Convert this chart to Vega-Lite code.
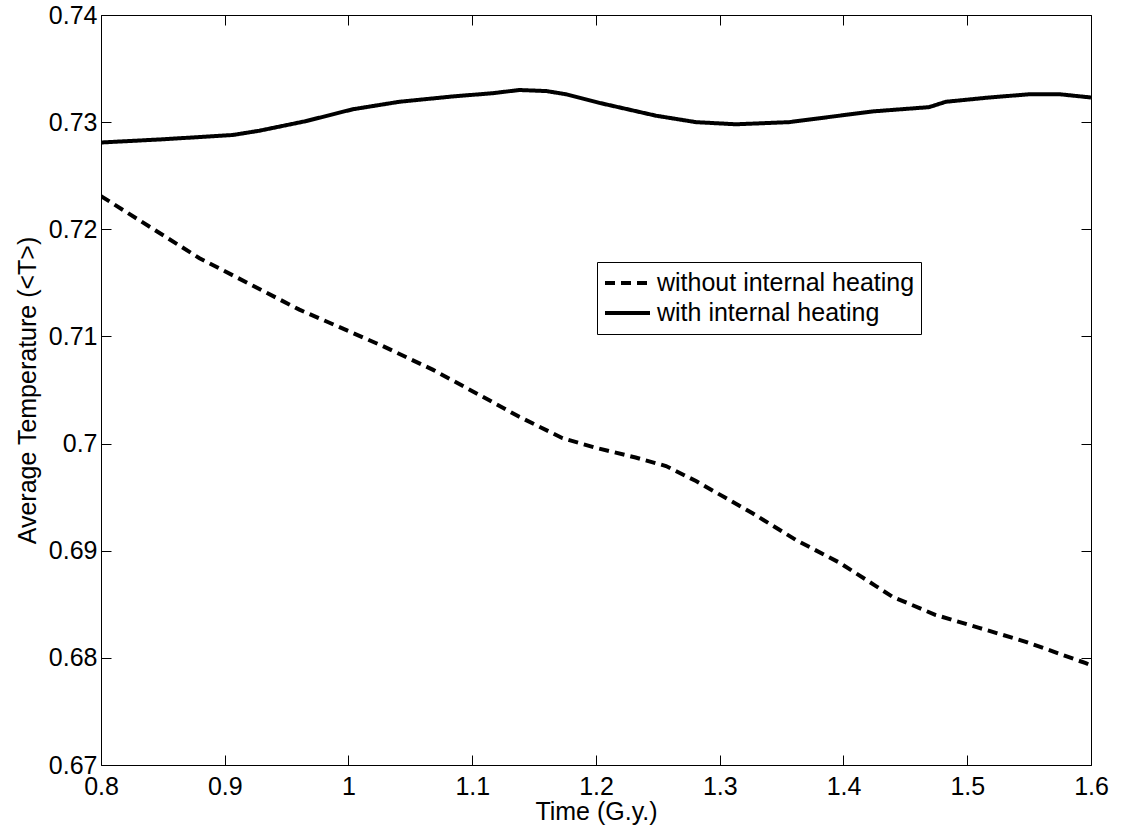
{
  "$schema": "https://vega.github.io/schema/vega-lite/v6.json",
  "width": 990,
  "height": 750,
  "autosize": {"type": "none"},
  "padding": {"left": 101, "top": 15, "right": 35, "bottom": 66},
  "background": "white",
  "config": {
    "font": "Liberation Sans",
    "view": {"stroke": null},
    "axis": {
      "domainColor": "black",
      "domainWidth": 1,
      "tickColor": "black",
      "tickSize": -10,
      "tickWidth": 1,
      "labelColor": "black",
      "titleColor": "black",
      "labelFontSize": 25,
      "titleFontSize": 25,
      "titleFontWeight": "normal",
      "grid": false,
      "labelFlush": false,
      "labelOverlap": false,
      "labelFont": "Liberation Sans",
      "titleFont": "Liberation Sans"
    }
  },
  "data": {
    "values": [
      {"t": 0.800, "T": 0.7281, "series": "with internal heating"},
      {"t": 0.850, "T": 0.7284, "series": "with internal heating"},
      {"t": 0.9065, "T": 0.7288, "series": "with internal heating"},
      {"t": 0.928, "T": 0.7292, "series": "with internal heating"},
      {"t": 0.9658, "T": 0.7301, "series": "with internal heating"},
      {"t": 1.0034, "T": 0.7312, "series": "with internal heating"},
      {"t": 1.0411, "T": 0.7319, "series": "with internal heating"},
      {"t": 1.0842, "T": 0.7324, "series": "with internal heating"},
      {"t": 1.1165, "T": 0.7327, "series": "with internal heating"},
      {"t": 1.138, "T": 0.7330, "series": "with internal heating"},
      {"t": 1.16, "T": 0.7329, "series": "with internal heating"},
      {"t": 1.1758, "T": 0.7326, "series": "with internal heating"},
      {"t": 1.2027, "T": 0.7318, "series": "with internal heating"},
      {"t": 1.2485, "T": 0.7306, "series": "with internal heating"},
      {"t": 1.2808, "T": 0.7300, "series": "with internal heating"},
      {"t": 1.3131, "T": 0.7298, "series": "with internal heating"},
      {"t": 1.3561, "T": 0.7300, "series": "with internal heating"},
      {"t": 1.4234, "T": 0.7310, "series": "with internal heating"},
      {"t": 1.4692, "T": 0.7314, "series": "with internal heating"},
      {"t": 1.4827, "T": 0.7319, "series": "with internal heating"},
      {"t": 1.5177, "T": 0.7323, "series": "with internal heating"},
      {"t": 1.55, "T": 0.7326, "series": "with internal heating"},
      {"t": 1.575, "T": 0.7326, "series": "with internal heating"},
      {"t": 1.6, "T": 0.7323, "series": "with internal heating"},
      {"t": 0.800, "T": 0.7231, "series": "without internal heating"},
      {"t": 0.8796, "T": 0.7173, "series": "without internal heating"},
      {"t": 0.9603, "T": 0.7125, "series": "without internal heating"},
      {"t": 1.0277, "T": 0.7091, "series": "without internal heating"},
      {"t": 1.068, "T": 0.7069, "series": "without internal heating"},
      {"t": 1.116, "T": 0.7039, "series": "without internal heating"},
      {"t": 1.138, "T": 0.7025, "series": "without internal heating"},
      {"t": 1.173, "T": 0.7005, "series": "without internal heating"},
      {"t": 1.2, "T": 0.6996, "series": "without internal heating"},
      {"t": 1.232, "T": 0.6987, "series": "without internal heating"},
      {"t": 1.2566, "T": 0.6979, "series": "without internal heating"},
      {"t": 1.2808, "T": 0.6965, "series": "without internal heating"},
      {"t": 1.3265, "T": 0.6935, "series": "without internal heating"},
      {"t": 1.3616, "T": 0.6910, "series": "without internal heating"},
      {"t": 1.3965, "T": 0.6889, "series": "without internal heating"},
      {"t": 1.4262, "T": 0.6867, "series": "without internal heating"},
      {"t": 1.4396, "T": 0.6857, "series": "without internal heating"},
      {"t": 1.4746, "T": 0.6840, "series": "without internal heating"},
      {"t": 1.5096, "T": 0.6828, "series": "without internal heating"},
      {"t": 1.5473, "T": 0.6815, "series": "without internal heating"},
      {"t": 1.5958, "T": 0.6795, "series": "without internal heating"},
      {"t": 1.6, "T": 0.6793, "series": "without internal heating"}
    ]
  },
  "layer": [
    {
      "mark": {"type": "line", "color": "black", "strokeWidth": 4, "clip": true},
      "encoding": {
        "x": {
          "field": "t", "type": "quantitative",
          "scale": {"domain": [0.8, 1.6], "nice": false, "zero": false},
          "axis": {
            "orient": "bottom",
            "title": "Time (G.y.)",
            "values": [0.8, 0.9, 1.0, 1.1, 1.2, 1.3, 1.4, 1.5, 1.6],
            "format": "~g",
            "labelPadding": 19,
            "titleY": 54,
            "titleBaseline": "alphabetic"
          }
        },
        "y": {
          "field": "T", "type": "quantitative",
          "scale": {"domain": [0.67, 0.74], "nice": false, "zero": false},
          "axis": {
            "orient": "left",
            "title": "Average Temperature (<T>)",
            "values": [0.67, 0.68, 0.69, 0.7, 0.71, 0.72, 0.73, 0.74],
            "format": "~g",
            "labelPadding": 14,
            "titleX": -66,
            "titleY": 375,
            "titleAngle": 270,
            "titleBaseline": "alphabetic",
            "titleAlign": "center"
          }
        },
        "strokeDash": {
          "field": "series", "type": "nominal",
          "scale": {
            "domain": ["without internal heating", "with internal heating"],
            "range": [[10, 6], [1, 0]]
          },
          "legend": {
            "title": null,
            "orient": "none",
            "legendX": 496,
            "legendY": 247,
            "direction": "vertical",
            "strokeColor": "black",
            "fillColor": "white",
            "padding": 6,
            "symbolType": "stroke",
            "symbolSize": 2025,
            "symbolStrokeWidth": 4,
            "symbolStrokeColor": "black",
            "symbolDash": [8, 9],
            "labelFontSize": 25,
            "labelColor": "black",
            "labelFont": "Liberation Sans",
            "labelOffset": 5,
            "labelLimit": 500,
            "clipHeight": 30,
            "rowPadding": 0,
            "cornerRadius": 0
          }
        }
      }
    },
    {
      "mark": {"type": "point", "opacity": 0},
      "encoding": {
        "x": {
          "field": "t", "type": "quantitative",
          "axis": {
            "orient": "top", "title": null, "labels": false,
            "values": [0.8, 0.9, 1.0, 1.1, 1.2, 1.3, 1.4, 1.5, 1.6]
          }
        },
        "y": {
          "field": "T", "type": "quantitative",
          "axis": {
            "orient": "right", "title": null, "labels": false,
            "values": [0.67, 0.68, 0.69, 0.7, 0.71, 0.72, 0.73, 0.74]
          }
        }
      }
    }
  ],
  "resolve": {"axis": {"x": "independent", "y": "independent"}}
}
